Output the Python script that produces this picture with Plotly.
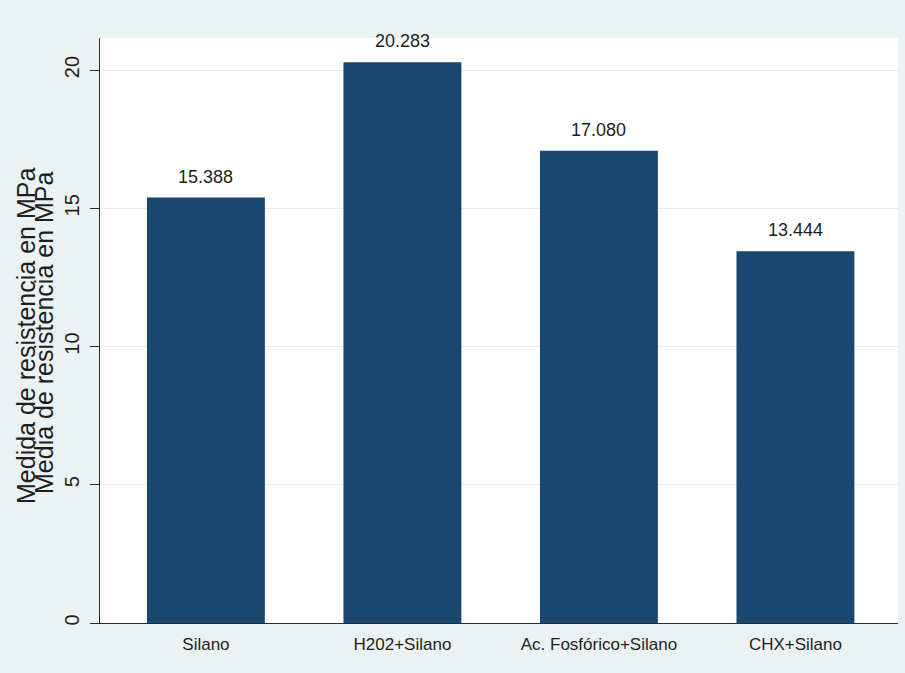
import plotly.graph_objects as go

categories = ["Silano", "H202+Silano", "Ac. Fosfórico+Silano", "CHX+Silano"]
values = [15.388, 20.283, 17.080, 13.444]
y_ticks = [0, 5, 10, 15, 20]
y_title_1 = "Medida de resistencia en MPa"
y_title_2 = "Media de resistencia en MPa"

BG = "#EAF2F3"
BAR = "#1A476F"
TXT = "#1e1e1e"
FONT = "Liberation Sans, Arial, sans-serif"

fig = go.Figure()
fig.add_trace(go.Bar(
    x=list(range(len(categories))), y=values,
    marker=dict(color=BAR, line=dict(width=0)),
    width=0.6, hoverinfo="skip",
))

for i, v in enumerate(values):
    fig.add_annotation(x=i, y=v, text=f"{v:.3f}", showarrow=False,
                       yanchor="bottom", yshift=9,
                       font=dict(family=FONT, size=18, color=TXT))

L, R, T, B = 100, 7, 38, 50
W, H = 905, 673
pw = W - L - R
ph = H - T - B

def px_to_paper_x(px):
    return (px - L) / pw

def px_to_paper_y(py):
    return (H - B - py) / ph

fig.add_annotation(xref="paper", yref="paper", x=px_to_paper_x(26), y=px_to_paper_y(336),
                   text=y_title_1, textangle=-90, showarrow=False,
                   xanchor="center", yanchor="middle",
                   font=dict(family=FONT, size=25, color=TXT))
fig.add_annotation(xref="paper", yref="paper", x=px_to_paper_x(44), y=px_to_paper_y(333),
                   text=y_title_2, textangle=-90, showarrow=False,
                   xanchor="center", yanchor="middle",
                   font=dict(family=FONT, size=25, color=TXT))

fig.update_layout(
    width=W, height=H,
    margin=dict(l=L, r=R, t=T, b=B, pad=0),
    paper_bgcolor=BG, plot_bgcolor="white",
    showlegend=False,
    font=dict(family=FONT, color=TXT),
    bargap=0.4,
)
fig.update_xaxes(
    tickmode="array", tickvals=list(range(len(categories))), ticktext=categories,
    range=[-0.539, 3.522], showgrid=False, zeroline=False,
    showline=True, linecolor="#2b2b2b", linewidth=1,
    ticks="", tickfont=dict(family=FONT, size=17, color=TXT),
    ticklabelstandoff=6,
)
fig.update_yaxes(
    tickmode="array", tickvals=y_ticks, ticktext=[str(t) for t in y_ticks],
    range=[0, 21.16], showgrid=True, gridcolor="#E6EDEF", gridwidth=1,
    zeroline=False, showline=True, linecolor="#2b2b2b", linewidth=1,
    ticks="outside", ticklen=9, tickcolor="#2b2b2b",
    tickangle=-90, tickfont=dict(family=FONT, size=20, color=TXT),
    ticklabelstandoff=3,
)

fig.write_html(
    "out.html",
    config={"displayModeBar": False},
    post_script="document.body.style.margin='0';document.body.style.background='" + BG + "';",
)
